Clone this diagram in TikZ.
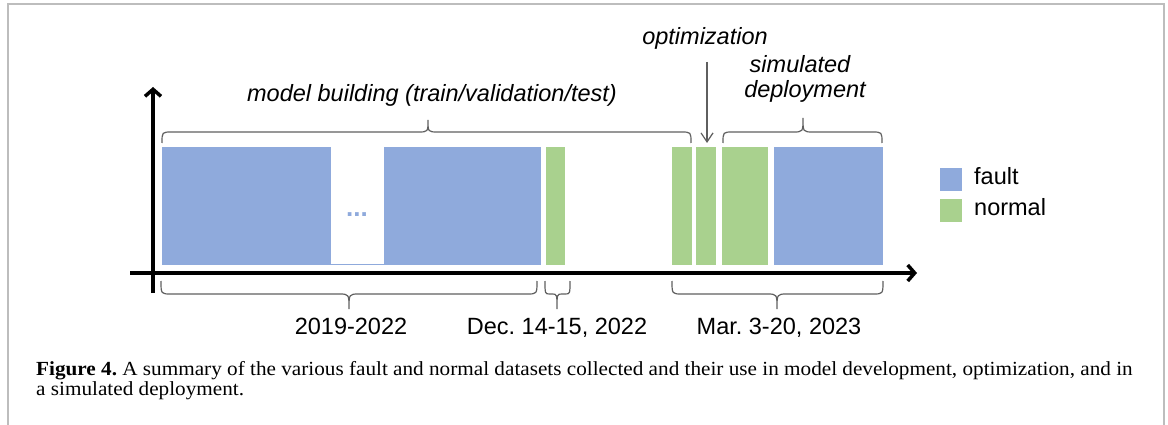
\documentclass[tikz,border=0pt]{standalone}
\usepackage{fontspec}
\setmainfont{Liberation Sans}
\newfontfamily\capfont[FakeStretch=1.06]{Liberation Serif}
\usetikzlibrary{arrows.meta}
\frenchspacing

\definecolor{faultblue}{HTML}{8FAADC}
\definecolor{normalgreen}{HTML}{A9D18E}
\definecolor{bracegray}{HTML}{5F5F5F}
\definecolor{framegray}{HTML}{BDBDBD}

% curly brace: x1, x2, tip x, corner radius, end y, line y, tip y
\newcommand\drawbrace[7]{%
  \draw[bracestyle] (#1,#5) .. controls (#1,#6) .. ({#1+#4},#6) -- ({#3-#4},#6)
    .. controls (#3,#6) .. (#3,#7) .. controls (#3,#6) .. ({#3+#4},#6)
    -- ({#2-#4},#6) .. controls (#2,#6) .. (#2,#5);}

\tikzset{
  lbl/.style={font=\fontsize{23.5}{28}\selectfont, inner sep=0pt, anchor=base},
  ital/.style={lbl, font=\fontsize{23.5}{28}\selectfont\itshape},
  caption/.style={font=\capfont\fontsize{20}{22}\selectfont, inner sep=0pt, anchor=base west},
  axisline/.style={line width=3.5pt, -{Straight Barb[length=7pt,width=16pt]}},
  optarrow/.style={draw=bracegray, line width=1.2pt, -{Straight Barb[length=9pt,width=12pt]}},
  bracestyle/.style={draw=bracegray, line width=1.2pt},
  faultbar/.style={fill=faultblue},
  normalbar/.style={fill=normalgreen},
}

\begin{document}
\begin{tikzpicture}[x=1pt,y=-1pt]
\useasboundingbox (0,0) rectangle (1168,425);

% frame
\draw[framegray, line width=2pt] (8,425) -- (8,4) -- (1164,4) -- (1164,425);

% data bars
\fill[faultbar] (162,147) rectangle (331,265);
\draw[faultblue, line width=0.8pt] (331,264.6) -- (384,264.6);
\fill[faultbar] (384,147) rectangle (541,265);
\node[lbl, text=faultblue, font=\fontsize{26}{28}\selectfont\bfseries] (dots) at (357,216) {...};
\fill[normalbar] (546,147) rectangle (565,265);
\fill[normalbar] (672,147) rectangle (692,265);
\fill[normalbar] (696,147) rectangle (716,265);
\fill[normalbar] (722,147) rectangle (768,265);
\fill[faultbar] (774,147) rectangle (883,265);

% axes
\coordinate (xstart) at (130,273);
\coordinate (xend) at (917,273);
\coordinate (ystart) at (153,293);
\coordinate (yend) at (153,87);
\draw[axisline] (xstart) -- (xend);
\draw[axisline] (ystart) -- (yend);

% braces above
\drawbrace{162}{691}{428}{10}{143}{132}{120}
\drawbrace{723}{882}{803}{10}{143}{132}{118}
% braces below
\drawbrace{161}{537}{349}{10}{281}{294}{309}
\drawbrace{545}{570}{557}{5}{281}{294}{309}
\drawbrace{672}{883}{777}{10}{281}{294}{309}

% labels above
\node[ital] (build) at (432,102) {model building (train/validation/test)};
\node[ital] (opt) at (705,45) {optimization};
\node[ital] (sim1) at (800,73) {simulated};
\node[ital] (sim2) at (805,98) {deployment};
\coordinate (optstart) at (707,62);
\coordinate (opttip) at (707,143);
\draw[optarrow] (optstart) -- (opttip);

% labels below
\node[lbl] (years) at (351,334) {2019-2022};
\node[lbl] (dec) at (557,334) {Dec. 14-15, 2022};
\node[lbl] (mar) at (779,334) {Mar. 3-20, 2023};

% legend
\fill[faultbar] (940,168) rectangle (962,191);
\fill[normalbar] (940,199) rectangle (962,222);
\node[lbl, anchor=base west] (lfault) at (974,185) {fault};
\node[lbl, anchor=base west] (lnormal) at (974,215) {normal};

% caption
\node[caption] (cap1) at (36,375) {\textbf{Figure 4.} A summary of the various fault and normal datasets collected and their use in model development, optimization, and in};
\node[caption] (cap2) at (36,395) {a simulated deployment.};
\end{tikzpicture}
\end{document}
